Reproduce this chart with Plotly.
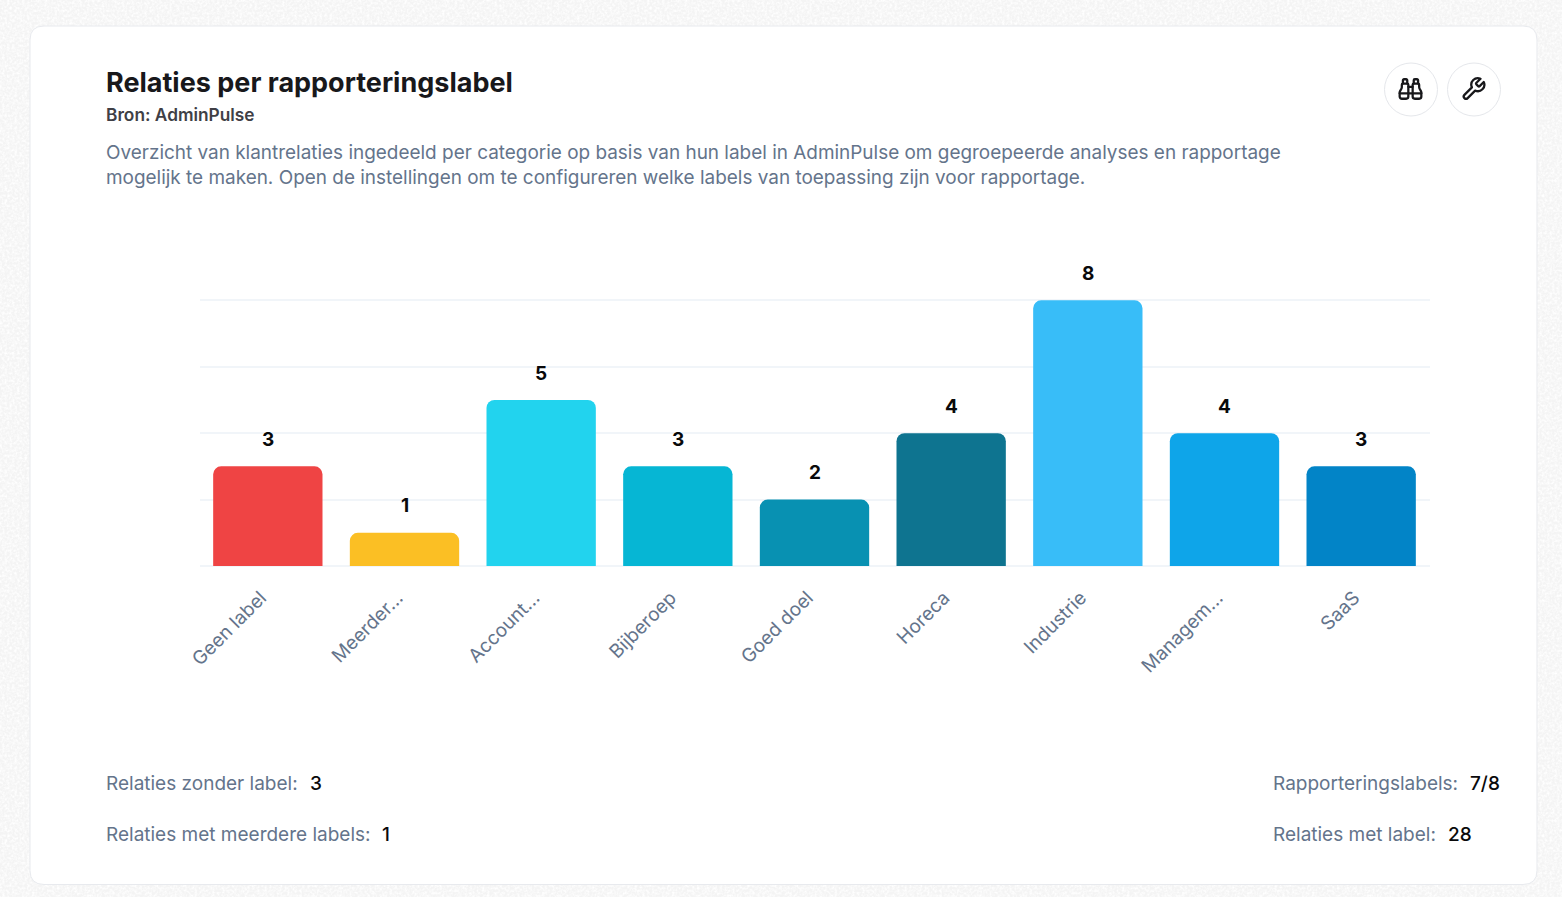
import urllib.parse
import plotly.graph_objects as go

W, H = 1562, 897

# data
categories = ['Geen label', 'Meerder...', 'Account...', 'Bijberoep', 'Goed doel', 'Horeca', 'Industrie', 'Managem...', 'SaaS']
values = [3, 1, 5, 3, 2, 4, 8, 4, 3]
bar_colors = ['#ef4444', '#fbbf24', '#22d3ee', '#06b6d4', '#0891b2', '#0e7490', '#38bdf8', '#0ea5e9', '#0284c7']
y_ticks = [0, 2, 4, 6, 8]

title = 'Relaties per rapporteringslabel'
source = 'Bron: AdminPulse'
description = ['Overzicht van klantrelaties ingedeeld per categorie op basis van hun label in AdminPulse om gegroepeerde analyses en rapportage',
               'mogelijk te maken. Open de instellingen om te configureren welke labels van toepassing zijn voor rapportage.']
stats_left = [('Relaties zonder label:', '3', 310, 783.5), ('Relaties met meerdere labels:', '1', 382, 834.5)]
stats_right = [('Rapporteringslabels:', '7/8', 1470, 783.5), ('Relaties met label:', '28', 1448, 834.5)]

SLATE = '#64748b'
FONT = 'Inter'

BINOCULARS = ('<path d="M10 10h4"/><path d="M19 7V4a1 1 0 0 0-1-1h-2a1 1 0 0 0-1 1v3"/>'
              '<path d="M20 21a2 2 0 0 0 2-2v-3.851c0-1.39-2-2.962-2-4.829V8a1 1 0 0 0-1-1h-4a1 1 0 0 0-1 1v11a2 2 0 0 0 2 2z"/>'
              '<path d="M22 16L2 16"/>'
              '<path d="M4 21a2 2 0 0 1-2-2v-3.851c0-1.39 2-2.962 2-4.829V8a1 1 0 0 1 1-1h4a1 1 0 0 1 1 1v11a2 2 0 0 1-2 2z"/>'
              '<path d="M9 7V4a1 1 0 0 0-1-1H6a1 1 0 0 0-1 1v3"/>')
WRENCH = ('<path d="M14.7 6.3a1 1 0 0 0 0 1.4l1.6 1.6a1 1 0 0 0 1.4 0l3.77-3.77a6 6 0 0 1-7.94 7.94l-6.91 6.91'
          'a2.12 2.12 0 0 1-3-3l6.91-6.91a6 6 0 0 1 7.94-7.94l-3.76 3.76z"/>')
NOISE = (f'<svg xmlns="http://www.w3.org/2000/svg" width="{W}" height="{H}">'
         '<filter id="n"><feTurbulence type="fractalNoise" baseFrequency="0.4" numOctaves="2" seed="4"/>'
         '<feColorMatrix values="0 0 0 0 1  0 0 0 0 1  0 0 0 0 1  2.2 0 0 0 -0.8"/></filter>'
         f'<rect width="{W}" height="{H}" filter="url(#n)"/></svg>')


def px(x):
    return x / W


def py(y):
    return 1 - y / H


def text(x, y, s, size, color, weight=400, anchor='left'):
    # annotations pad by a couple of pixels, so pull the left edge back
    return dict(xref='paper', yref='paper', x=px(x - 2.5), y=py(y), text=s, showarrow=False,
                xanchor=anchor, yanchor='middle', align=anchor,
                font=dict(family=FONT, size=size, color=color, weight=weight))


def rounded_rect(x0, y0, x1, y1, r):
    pts = [('M', x0 + r, y0), ('L', x1 - r, y0), ('Q', x1, y0, x1, y0 + r), ('L', x1, y1 - r),
           ('Q', x1, y1, x1 - r, y1), ('L', x0 + r, y1), ('Q', x0, y1, x0, y1 - r), ('L', x0, y0 + r),
           ('Q', x0, y0, x0 + r, y0)]
    path = ''
    for p in pts:
        coords = p[1:]
        path += p[0] + ' '.join(f'{px(coords[i]):.5f},{py(coords[i + 1]):.5f}' for i in range(0, len(coords), 2)) + ' '
    return path + 'Z'


def svg_uri(svg):
    return 'data:image/svg+xml;charset=utf-8,' + urllib.parse.quote(svg)


def icon(svg_paths, cx, cy, size=26):
    svg = ('<svg xmlns="http://www.w3.org/2000/svg" width="24" height="24" viewBox="0 0 24 24" fill="none" '
           'stroke="#18181b" stroke-width="2.1" stroke-linecap="round" stroke-linejoin="round">' + svg_paths + '</svg>')
    return dict(source=svg_uri(svg), xref='paper', yref='paper',
                x=px(cx), y=py(cy), sizex=size / W, sizey=size / H, xanchor='center', yanchor='middle', layer='above')


def circle(cx, cy, r):
    return dict(type='circle', xref='paper', yref='paper', x0=px(cx - r), x1=px(cx + r), y0=py(cy + r), y1=py(cy - r),
                line=dict(color='#e5e7eb', width=1), fillcolor='white', layer='below')


fig = go.Figure(go.Bar(x=categories, y=values, marker=dict(color=bar_colors, line=dict(width=0)), hoverinfo='x+y'))

annotations = [
    text(106, 83, title, 27, '#18181b', 700),
    text(106, 114, source, 17.3, '#3f3f46', 600),
    text(106, 152.5, description[0], 18.95, SLATE),
    text(106, 177.5, description[1], 18.95, SLATE),
]
for c, v in zip(categories, values):
    annotations.append(dict(x=c, y=v, xref='x', yref='y', text=str(v), showarrow=False, yanchor='middle', yshift=26.8,
                            font=dict(family=FONT, size=19, color='#09090b', weight=700)))
for label, val, vx, y in stats_left + stats_right:
    lx = 106 if vx < 800 else 1273
    annotations.append(text(lx, y, label, 19, SLATE))
    annotations.append(text(vx, y, val, 19, '#09090b', 500))

shapes = [
    dict(type='path', xref='paper', yref='paper', path=rounded_rect(30, 26, 1537, 884.5, 14),
         fillcolor='white', line=dict(color='#e8eaee', width=1), layer='below'),
    circle(1411, 89.5, 26.5),
    circle(1474, 89.5, 26.5),
]

fig.update_layout(
    width=W, height=H, autosize=False,
    margin=dict(l=0, r=0, t=0, b=0, autoexpand=False),
    paper_bgcolor='#f4f4f4', plot_bgcolor='rgba(0,0,0,0)',
    showlegend=False, bargap=0.2,
    barcornerradius=8,
    font=dict(family=FONT),
    annotations=annotations, shapes=shapes,
    images=[dict(source=svg_uri(NOISE), xref='paper', yref='paper', x=0, y=1, sizex=1, sizey=1,
                 xanchor='left', yanchor='top', sizing='stretch', layer='below'),
            icon(BINOCULARS, 1410.5, 89), icon(WRENCH, 1473.5, 89)],
)
fig.update_xaxes(domain=[px(199.5), px(1429.5)], tickangle=-45, ticks='', ticklabelstandoff=16, ticklabelshift=-7,
                 tickfont=dict(family=FONT, size=19, color=SLATE), showgrid=False, automargin=False,
                 showline=False, zeroline=False)
# top of range a bit past 8 so the grid line at 8 is not dropped at the axis end
fig.update_yaxes(domain=[py(566), py(298.3)], range=[0, 8.06], tickvals=y_ticks, showticklabels=False,
                 gridcolor='#f1f5f9', gridwidth=2, zeroline=True, zerolinecolor='#f1f5f9', zerolinewidth=2,
                 showline=False, automargin=False)

fig.write_html('out.html', config=dict(displayModeBar=False),
               post_script="document.body.style.margin='0';document.body.style.overflow='hidden';")
